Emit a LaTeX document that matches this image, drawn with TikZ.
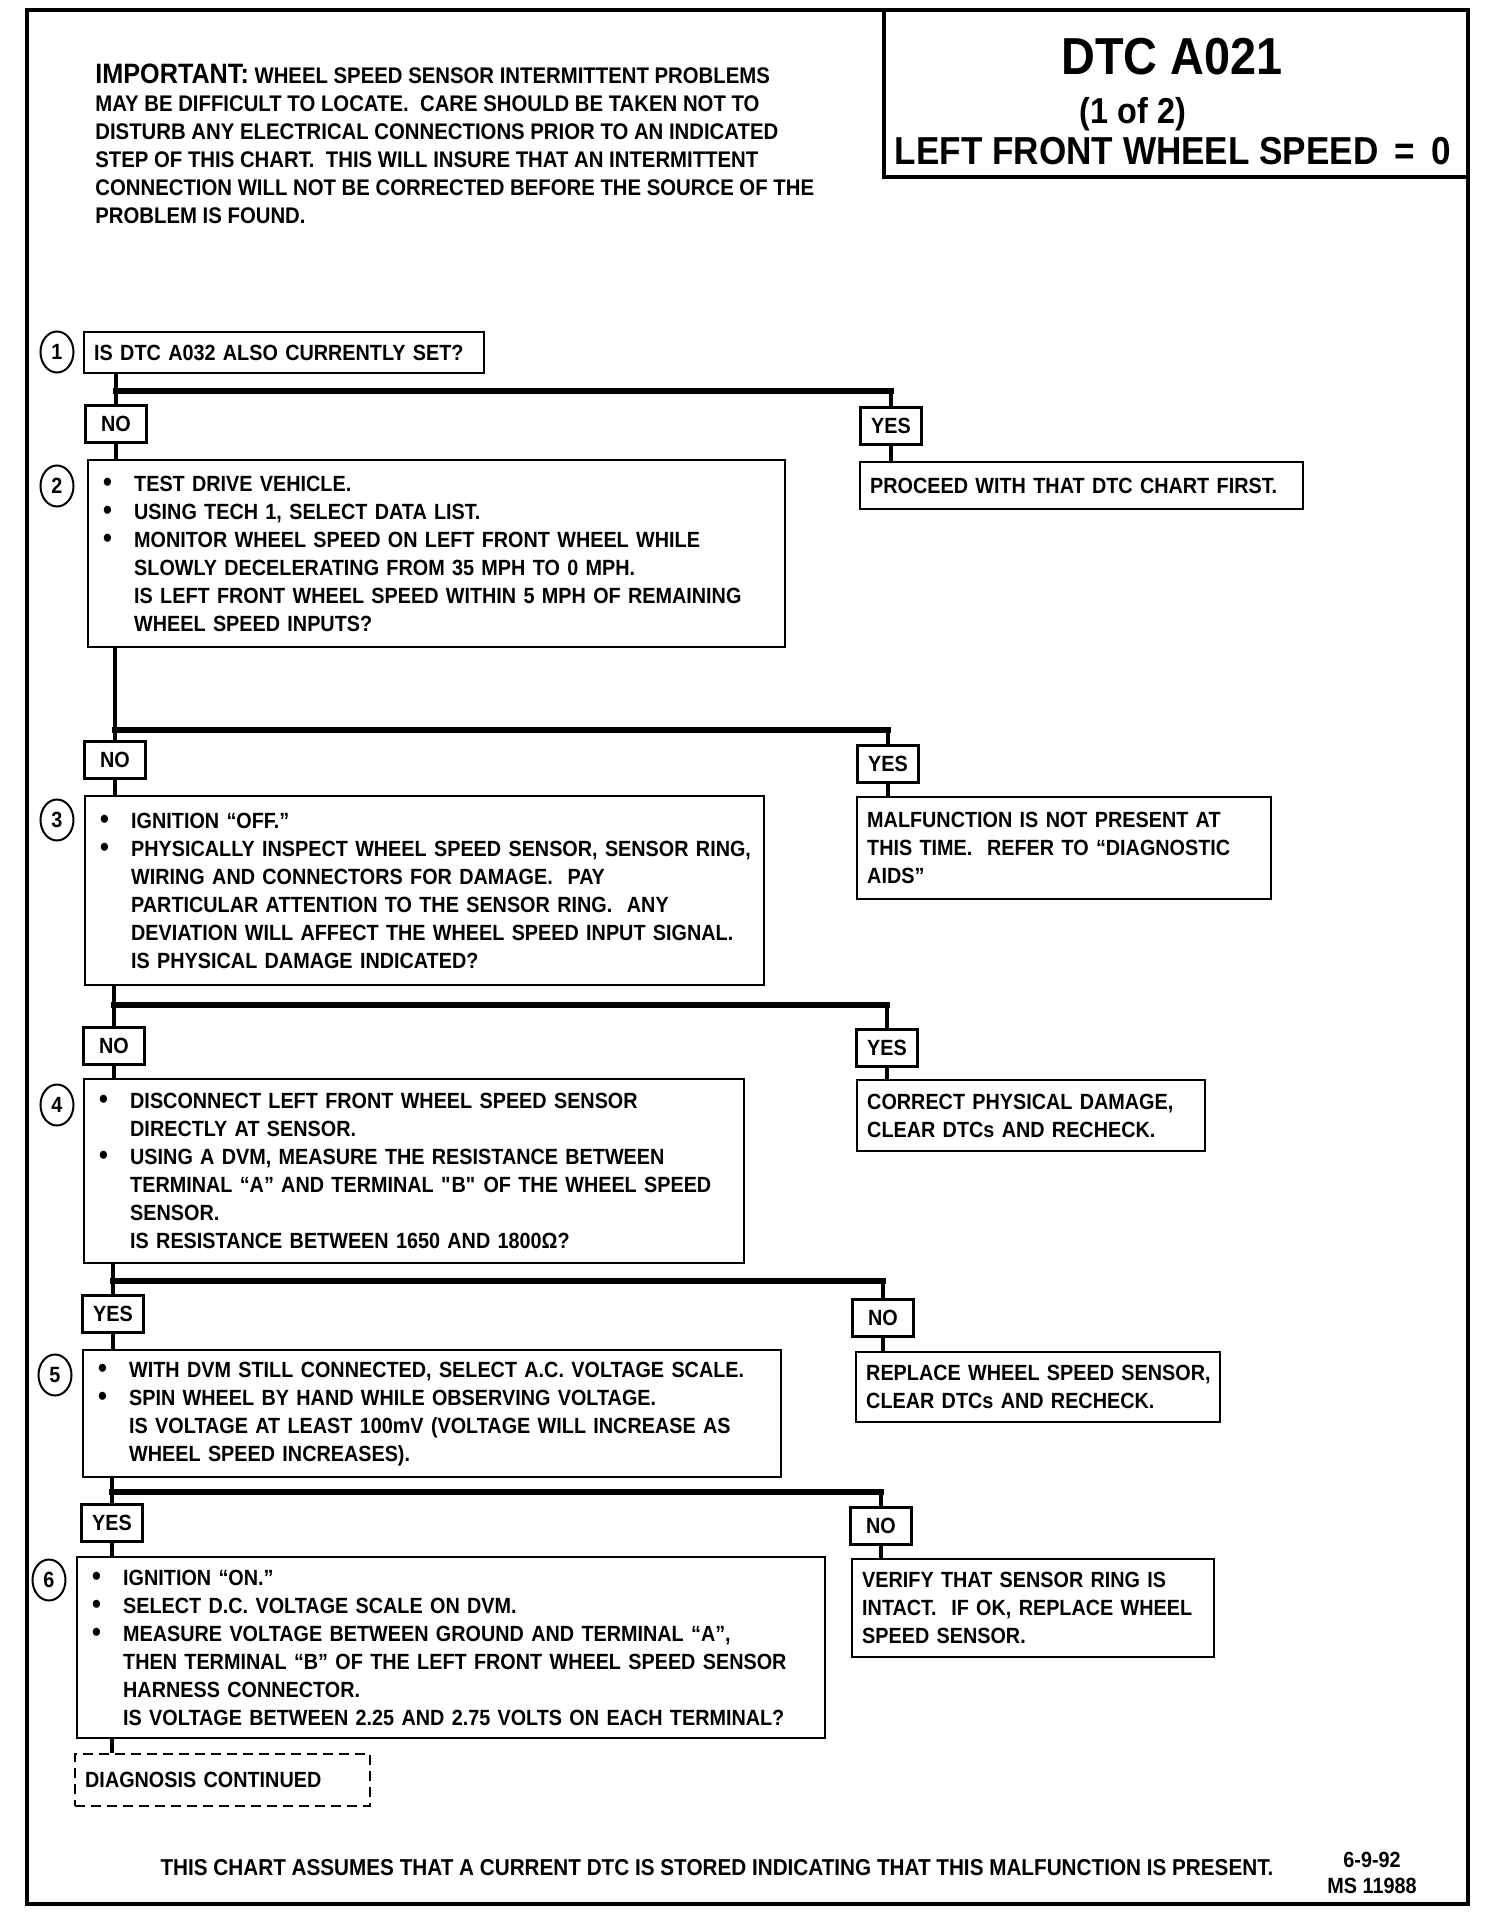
\documentclass[tikz,border=0pt]{standalone}
\usepackage{fontspec}
\setmainfont{Liberation Sans}[FakeStretch=0.9]
\usetikzlibrary{shapes.geometric, positioning}

\newcommand{\bul}{\makebox[18pt][l]{\hspace*{2.5pt}{\fontsize{14}{14}\selectfont\textbullet}}}
\newcommand{\ind}{\hspace*{18pt}}

\begin{document}
\begin{tikzpicture}[x=0.5pt, y=-0.5pt,
    every node/.style={font=\bfseries\fontsize{11}{14}\selectfont},
    stepbox/.style={draw, line width=1.2pt, anchor=north west, align=left, inner xsep=5pt, inner ysep=0pt,
        execute at begin node={\rightskip=0pt plus 1fil minus 8pt}},
    answer/.style={draw, line width=1.2pt, minimum width=30.5pt, minimum height=18.5pt, inner sep=0pt},
    stepnum/.style={draw, ellipse, line width=1pt, minimum width=16.5pt, minimum height=20.5pt, inner sep=0pt},
    wire/.style={line width=2pt},
    bar/.style={line width=3pt, line cap=rect}]
    \useasboundingbox (0,0) rectangle (1488,1914);

    % Frame and title
    \draw[line width=2pt] (27,10) rectangle (1468,1904);
    \draw[line width=1.6pt] (884,10) rectangle (1468,177);
    \node[font=\bfseries\fontsize{26}{28}\selectfont] (dtc) at (1172,57) {DTC A021};
    \node[font=\bfseries\fontsize{18}{18}\selectfont] (part) at (1133,114) {(1 of 2)};
    \node[font=\bfseries\fontsize{19.5}{22}\selectfont] (lfw) at (1173,151) {LEFT FRONT WHEEL SPEED \,=\, 0};

    \node[anchor=north west, align=left, inner sep=0pt, font=\bfseries\fontsize{11.3}{14}\selectfont] (imp) at (95,64) {{\fontsize{14}{14}\selectfont IMPORTANT:} WHEEL SPEED SENSOR INTERMITTENT PROBLEMS\\
        MAY BE DIFFICULT TO LOCATE.\ \ CARE SHOULD BE TAKEN NOT TO\\
        DISTURB ANY ELECTRICAL CONNECTIONS PRIOR TO AN INDICATED\\
        STEP OF THIS CHART.\ \ THIS WILL INSURE THAT AN INTERMITTENT\\
        CONNECTION WILL NOT BE CORRECTED BEFORE THE SOURCE OF THE\\
        PROBLEM IS FOUND.};

    % Step 1
    \node[stepnum] (c1) at (57,352) {1};
    \node[stepbox, text width=190pt, minimum height=20.5pt] (s1) at (83,331) {IS DTC A032 ALSO CURRENTLY SET?};
    \coordinate (j1) at (116,391);
    \node[answer] (n1) at (116,424) {NO};
    \node[answer] (y1) at (891,426) {YES};
    \node[stepbox, text width=211.5pt, minimum height=23.5pt] (r1) at (859,461) {PROCEED WITH THAT DTC CHART FIRST.};
    \draw[wire] (s1.south -| j1) -- (n1.north);
    \draw[bar] (j1) -- (j1 -| y1);
    \draw[wire] (j1 -| y1) -- (y1.north);
    \draw[wire] (n1.south) -- (n1 |- r1.north);
    \draw[wire] (y1.south) -- (y1 |- r1.north);

    % Step 2
    \node[stepnum] (c2) at (57,486) {2};
    \node[stepbox, text width=338.5pt, minimum height=93.5pt] (s2) at (87,459) {\bul TEST DRIVE VEHICLE.\\
        \bul USING TECH 1, SELECT DATA LIST.\\
        \bul MONITOR WHEEL SPEED ON LEFT FRONT WHEEL WHILE\\
        \ind SLOWLY DECELERATING FROM 35 MPH TO 0 MPH.\\
        \ind IS LEFT FRONT WHEEL SPEED WITHIN 5 MPH OF REMAINING\\
        \ind WHEEL SPEED INPUTS?};
    \coordinate (j2) at (115,730);
    \node[answer] (n2) at (115,760) {NO};
    \node[answer] (y2) at (888,764) {YES};
    \node[stepbox, text width=197pt, minimum height=51pt] (r2) at (856,796) {MALFUNCTION IS NOT PRESENT AT\\
        THIS TIME.\ \ REFER TO “DIAGNOSTIC\\
        AIDS”};
    \draw[wire] (s2.south -| j2) -- (n2.north);
    \draw[bar] (j2) -- (j2 -| y2);
    \draw[wire] (j2 -| y2) -- (y2.north);
    \draw[wire] (n2.south) -- (n2 |- r2.north);
    \draw[wire] (y2.south) -- (y2 |- r2.north);

    % Step 3
    \node[stepnum] (c3) at (57,820) {3};
    \node[stepbox, text width=329.5pt, minimum height=94.5pt] (s3) at (84,795) {\bul IGNITION “OFF.”\\
        \bul PHYSICALLY INSPECT WHEEL SPEED SENSOR, SENSOR RING,\\
        \ind WIRING AND CONNECTORS FOR DAMAGE.\ \ PAY\\
        \ind PARTICULAR ATTENTION TO THE SENSOR RING.\ \ ANY\\
        \ind DEVIATION WILL AFFECT THE WHEEL SPEED INPUT SIGNAL.\\
        \ind IS PHYSICAL DAMAGE INDICATED?};
    \coordinate (j3) at (114,1005);
    \node[answer] (n3) at (114,1046) {NO};
    \node[answer] (y3) at (887,1048) {YES};
    \node[stepbox, text width=164pt, minimum height=35.5pt] (r3) at (856,1079) {CORRECT PHYSICAL DAMAGE,\\
        CLEAR DTCs AND RECHECK.};
    \draw[wire] (s3.south -| j3) -- (n3.north);
    \draw[bar] (j3) -- (j3 -| y3);
    \draw[wire] (j3 -| y3) -- (y3.north);
    \draw[wire] (n3.south) -- (n3 |- r3.north);
    \draw[wire] (y3.south) -- (y3 |- r3.north);

    % Step 4
    \node[stepnum] (c4) at (57,1105) {4};
    \node[stepbox, text width=320pt, minimum height=92pt] (s4) at (83,1078) {\bul DISCONNECT LEFT FRONT WHEEL SPEED SENSOR\\
        \ind DIRECTLY AT SENSOR.\\
        \bul USING A DVM, MEASURE THE RESISTANCE BETWEEN\\
        \ind TERMINAL “A” AND TERMINAL \textquotedbl B\textquotedbl{} OF THE WHEEL SPEED\\
        \ind SENSOR.\\
        \ind IS RESISTANCE BETWEEN 1650 AND 1800Ω?};
    \coordinate (j4) at (113,1281);
    \node[answer] (y4) at (113,1314) {YES};
    \node[answer] (n4) at (883,1318) {NO};
    \node[stepbox, text width=172pt, minimum height=35pt] (r4) at (855,1351) {REPLACE WHEEL SPEED SENSOR,\\
        CLEAR DTCs AND RECHECK.};
    \draw[wire] (s4.south -| j4) -- (y4.north);
    \draw[bar] (j4) -- (j4 -| n4);
    \draw[wire] (j4 -| n4) -- (n4.north);
    \draw[wire] (y4.south) -- (y4 |- r4.north);
    \draw[wire] (n4.south) -- (n4 |- r4.north);

    % Step 5
    \node[stepnum] (c5) at (55,1375) {5};
    \node[stepbox, text width=339pt, minimum height=63.5pt] (s5) at (82,1349) {\bul WITH DVM STILL CONNECTED, SELECT A.C. VOLTAGE SCALE.\\
        \bul SPIN WHEEL BY HAND WHILE OBSERVING VOLTAGE.\\
        \ind IS VOLTAGE AT LEAST 100mV (VOLTAGE WILL INCREASE AS\\
        \ind WHEEL SPEED INCREASES).};
    \coordinate (j5) at (112,1492);
    \node[answer] (y5) at (112,1523) {YES};
    \node[answer] (n5) at (881,1526) {NO};
    \node[stepbox, text width=171pt, minimum height=49pt] (r5) at (851,1558) {VERIFY THAT SENSOR RING IS\\
        INTACT.\ \ IF OK, REPLACE WHEEL\\
        SPEED SENSOR.};
    \draw[wire] (s5.south -| j5) -- (y5.north);
    \draw[bar] (j5) -- (j5 -| n5);
    \draw[wire] (j5 -| n5) -- (n5.north);
    \draw[wire] (y5.south) -- (y5 |- r5.north);
    \draw[wire] (n5.south) -- (n5 |- r5.north);

    % Step 6
    \node[stepnum] (c6) at (49,1580) {6};
    \node[stepbox, text width=364pt, minimum height=90.5pt] (s6) at (76,1556) {\bul IGNITION “ON.”\\
        \bul SELECT D.C. VOLTAGE SCALE ON DVM.\\
        \bul MEASURE VOLTAGE BETWEEN GROUND AND TERMINAL “A”,\\
        \ind THEN TERMINAL “B” OF THE LEFT FRONT WHEEL SPEED SENSOR\\
        \ind HARNESS CONNECTOR.\\
        \ind IS VOLTAGE BETWEEN 2.25 AND 2.75 VOLTS ON EACH TERMINAL?};
    \node[stepbox, dashed, dash pattern=on 5pt off 3pt, text width=137.5pt, minimum height=26pt] (cont) at (74,1753) {DIAGNOSIS CONTINUED};
    \draw[wire] (j5 |- s6.south) -- (j5 |- cont.north);

    % Footer
    \node[font=\bfseries\fontsize{11.5}{14}\selectfont] (note) at (717,1868) {THIS CHART ASSUMES THAT A CURRENT DTC IS STORED INDICATING THAT THIS MALFUNCTION IS PRESENT.};
    \node[align=center, font=\bfseries\fontsize{11}{13}\selectfont] (date) at (1372,1873) {6-9-92\\MS 11988};
\end{tikzpicture}
\end{document}
